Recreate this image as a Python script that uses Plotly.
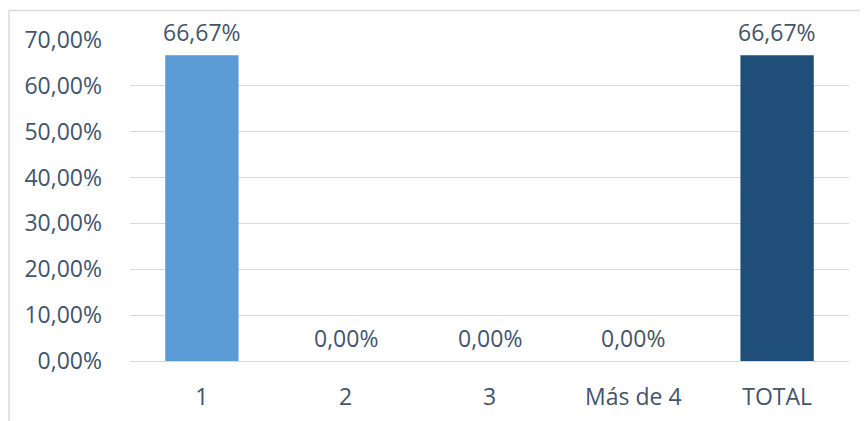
import plotly.graph_objects as go

categories = ["1", "2", "3", "Más de 4", "TOTAL"]
values = [66.67, 0.0, 0.0, 0.0, 66.67]
bar_colors = ["#5b9bd5", "#5b9bd5", "#5b9bd5", "#5b9bd5", "#1f4e79"]
y_ticks = [0, 10, 20, 30, 40, 50, 60, 70]
y_tick_labels = [f"{v:.2f}%".replace(".", ",") for v in y_ticks]

text_color = "#44546a"
font_family = "Open Sans, Liberation Sans, sans-serif"
fs = 23

# page offset compensation (body margin of the browser)
L, R, T, B = 122, 27, 32, 68
W, H = 868, 421
pw, ph = W - L - R, H - T - B

fig = go.Figure()
fig.add_trace(go.Bar(
    x=categories,
    y=values,
    marker=dict(color=bar_colors, line=dict(width=0)),
    hoverinfo="skip",
))

# value labels, placed at each category's index on the category axis
annotations = [
    dict(x=i, y=v, xref="x", yref="y", text=f"{v:.2f}%".replace(".", ","),
         showarrow=False, yanchor="bottom", yshift=5,
         font=dict(size=fs, color=text_color, family=font_family))
    for i, v in enumerate(values)
]

bx = (1.0 - L) / pw
by = 1 + (T - 2.5) / ph

fig.update_layout(
    width=W, height=H,
    margin=dict(l=L, r=R, t=T, b=B),
    paper_bgcolor="white",
    plot_bgcolor="white",
    showlegend=False,
    bargap=0.49,
    font=dict(family=font_family, size=fs, color=text_color),
    xaxis=dict(
        type="category",
        showgrid=False, showline=False, zeroline=False,
        ticks="", ticklabelstandoff=20,
        tickfont=dict(size=fs, color=text_color),
    ),
    yaxis=dict(
        range=[0, 70],
        tickmode="array",
        tickvals=y_ticks,
        ticktext=y_tick_labels,
        showgrid=True, gridcolor="#d9d9d9", gridwidth=1.3,
        zeroline=True, zerolinecolor="#d9d9d9", zerolinewidth=1.3,
        showline=False, ticks="", ticklabelstandoff=27,
        tickfont=dict(size=fs, color=text_color),
    ),
    annotations=annotations,
    shapes=[
        dict(type="line", xref="paper", yref="paper",
             x0=bx, x1=bx, y0=by, y1=-0.5,
             line=dict(color="#d9d9d9", width=1.5)),
        dict(type="line", xref="paper", yref="paper",
             x0=bx, x1=1.3, y0=by, y1=by,
             line=dict(color="#d9d9d9", width=1.5)),
    ],
)

fig.write_html("out.html")
